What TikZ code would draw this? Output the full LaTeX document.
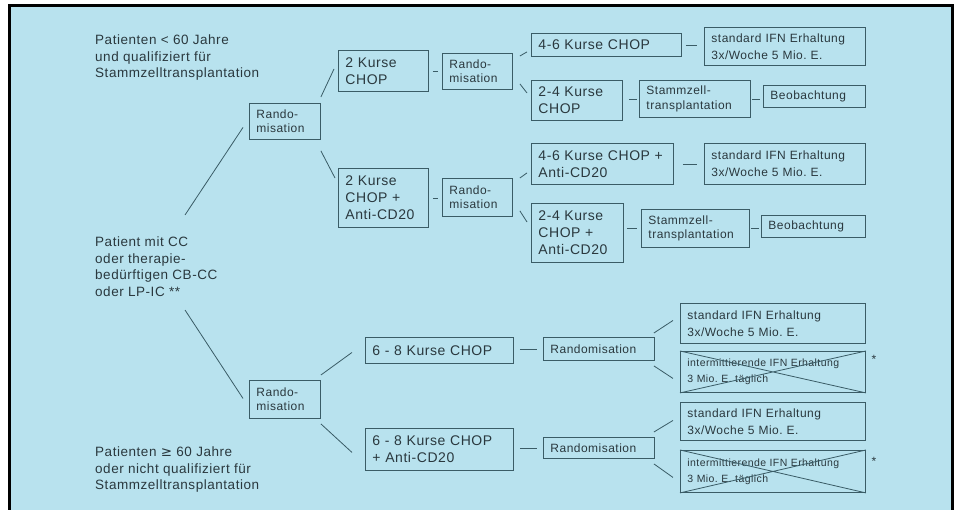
\documentclass[tikz,border=0pt]{standalone}
\usepackage{fontspec}
\setmainfont{Liberation Sans}[LetterSpace=4]
\newfontfamily\symfont{DejaVu Sans}
\usetikzlibrary{calc}
\frenchspacing
\definecolor{bg}{RGB}{184,226,238}
\definecolor{lc}{RGB}{58,92,102}
\definecolor{tc}{RGB}{42,56,62}
\newcommand\lefttxt{\fontsize{13.5}{16.5}\selectfont}
\newcommand\kurstxt{\fontsize{14}{17}\selectfont}
\newcommand\randtxt{\fontsize{12}{14.5}\selectfont}
\newcommand\ifntxt{\fontsize{12}{17}\selectfont}
\newcommand\inttxt{\fontsize{10.5}{16}\selectfont}
\tikzset{
  box/.style={draw=lc, line width=0.9pt, anchor=north west, inner xsep=7pt,
    inner ysep=0pt, align=left, font=\kurstxt},
  rbox/.style={box, font=\randtxt},
  ibox/.style={box, font=\ifntxt},
  con/.style={draw=lc, line width=0.8pt},
  ltext/.style={anchor=north west, inner sep=0pt, align=left, font=\lefttxt}
}
\begin{document}
\begin{tikzpicture}[x=1pt,y=-1pt,text=tc]
		\useasboundingbox (0,0) rectangle (960,510);
		\fill[bg] (9.5,6) rectangle (952.5,510); %Hintergrund
		\draw[black,line width=3pt] (9.5,510)--(9.5,6)--(952.5,6)--(952.5,510);
		% Texte links
		\node[ltext] (t1) at (95,35) {Patienten < 60 Jahre\\und qualifiziert für\\Stammzelltransplantation};
		\node[ltext] (t2) at (95,237) {Patient mit CC\\oder therapie-\\bedürftigen CB-CC\\oder LP-IC **};
		\node[ltext] (t3) at (95,447) {Patienten {\symfont ≥} 60 Jahre\\oder nicht qualifiziert für\\Stammzelltransplantation};
		% obere Gruppe
		\node[rbox,text width=57pt,minimum height=36pt] (r1) at (249,103) {Rando-\\misation};
		\node[box,text width=76pt,minimum height=41pt] (k2) at (338,50) {2 Kurse\\CHOP};
		\node[box,text width=76pt,minimum height=59pt] (k2a) at (338,168) {2 Kurse\\CHOP +\\Anti-CD20};
		\node[rbox,text width=56pt,minimum height=36pt] (r2) at (442,53) {Rando-\\misation};
		\node[rbox,text width=56pt,minimum height=38pt] (r3) at (442,178) {Rando-\\misation};
		\node[box,text width=136pt,minimum height=23pt] (k46) at (531,33) {4-6 Kurse CHOP};
		\node[ibox,text width=147pt,minimum height=38pt] (ifn1) at (704,27) {standard IFN Erhaltung\\3x/Woche 5 Mio. E.};
		\node[box,text width=77pt,minimum height=40pt] (k24) at (531,80) {2-4 Kurse\\CHOP};
		\node[rbox,text width=97pt,minimum height=37pt] (sz1) at (639,80) {Stammzell-\\transplantation};
		\node[rbox,text width=88pt,minimum height=22pt] (beo1) at (763,85) {Beobachtung};
		\node[box,text width=128pt,minimum height=41pt] (k46a) at (531,143) {4-6 Kurse CHOP +\\Anti-CD20};
		\node[ibox,text width=147pt,minimum height=41pt] (ifn2) at (704,143) {standard IFN Erhaltung\\3x/Woche 5 Mio. E.};
		\node[box,text width=78pt,minimum height=59pt] (k24a) at (531,203) {2-4 Kurse\\CHOP +\\Anti-CD20};
		\node[rbox,text width=94pt,minimum height=38pt] (sz2) at (641,209) {Stammzell-\\transplantation};
		\node[rbox,text width=90pt,minimum height=22pt] (beo2) at (761,215) {Beobachtung};
		% untere Gruppe
		\node[rbox,text width=57pt,minimum height=38pt] (r4) at (249,380) {Rando-\\misation};
		\node[box,text width=134pt,minimum height=26pt] (k68) at (365,337) {6 - 8 Kurse CHOP};
		\node[box,text width=134pt,minimum height=42pt] (k68a) at (365,428) {6 - 8 Kurse CHOP\\+ Anti-CD20};
		\node[rbox,text width=97pt,minimum height=23pt] (rm1) at (543,337) {Randomisation};
		\node[rbox,text width=97pt,minimum height=21pt] (rm2) at (543,437) {Randomisation};
		\node[ibox,text width=171pt,minimum height=40pt] (ifn3) at (680,303) {standard IFN Erhaltung\\3x/Woche 5 Mio. E.};
		\node[ibox,font=\inttxt,text width=171pt,minimum height=41pt] (int1) at (680,351) {intermittierende IFN Erhaltung\\3 Mio.\ E.\ täglich};
		\node[ibox,text width=171pt,minimum height=38pt] (ifn4) at (680,402) {standard IFN Erhaltung\\3x/Woche 5 Mio. E.};
		\node[ibox,font=\inttxt,text width=171pt,minimum height=42pt] (int2) at (680,450) {intermittierende IFN Erhaltung\\3 Mio.\ E.\ täglich};
		\node[font=\ifntxt,inner sep=0pt] (ast1) at (874,359) {*};
		\node[font=\ifntxt,inner sep=0pt] (ast2) at (874,461) {*};
		% Verbindungen
		\draw[con] ($(t2.north west)+(90,-22)$)--($(r1.west)+(-6,6)$);
		\draw[con] ($(t2.north west)+(90,73)$)--($(r4.west)+(-6,-1)$);
		\draw[con] ($(r1.north east)+(0,-6)$)--($(k2.west)+(-4,-2)$);
		\draw[con] ($(r1.south east)+(0,11)$)--($(k2a.north west)+(-3,10)$);
		\draw[con,shorten <=4pt,shorten >=4pt] (k2.east)--(k2.east -| r2.west);
		\draw[con,shorten <=4pt,shorten >=4pt] (k2a.east)--(k2a.east -| r3.west);
		\draw[con] ($(r2.north east)+(7,3)$)--($(k46.south west)+(-4,-5)$);
		\draw[con] ($(r2.south east)+(7,-6)$)--($(k24.north west)+(-4,13)$);
		\draw[con,shorten <=4pt,shorten >=7pt] (k46.east)--(k46.east -| ifn1.west);
		\draw[con,shorten <=6pt,shorten >=2pt] (sz1.west -| k24.east)--(sz1.west);
		\draw[con,shorten <=1pt,shorten >=3pt] (sz1.east)--(sz1.east -| beo1.west);
		\draw[con] ($(r3.north east)+(7,0)$)--($(k46a.south west)+(-4,-12)$);
		\draw[con] ($(r3.south east)+(7,-6)$)--($(k24a.north west)+(-4,19)$);
		\draw[con,shorten <=9pt,shorten >=7pt] (k46a.east)--(k46a.east -| ifn2.west);
		\draw[con,shorten <=3pt,shorten >=4pt] (sz2.west -| k24a.east)--(sz2.west);
		\draw[con,shorten <=1pt,shorten >=2pt] (sz2.east)--(sz2.east -| beo2.west);
		\draw[con] ($(r4.north east)+(0,-5)$)--($(k68.west)+(-13,2)$);
		\draw[con] ($(r4.south east)+(0,5)$)--($(k68a.west)+(-13,3)$);
		\draw[con,shorten <=6pt,shorten >=6pt] (rm1.west -| k68.east)--(rm1.west);
		\draw[con,shorten <=6pt,shorten >=6pt] (rm2.west -| k68a.east)--(rm2.west);
		\draw[con] ($(rm1.north east)+(-1,-4)$)--($(ifn3.west)+(-7,-3)$);
		\draw[con] ($(rm1.south east)+(-1,5)$)--($(int1.west)+(-7,6.5)$);
		\draw[con] ($(rm2.north east)+(-1,-5)$)--($(ifn4.west)+(-7,-1)$);
		\draw[con] ($(rm2.south east)+(-1,5)$)--($(int2.west)+(-7,6)$);
		% Kreuze
		\draw[con] (int1.north west)--(int1.south east) (int1.south west)--(int1.north east);
		\draw[con] (int2.north west)--(int2.south east) (int2.south west)--(int2.north east);
	\end{tikzpicture}
\end{document}
